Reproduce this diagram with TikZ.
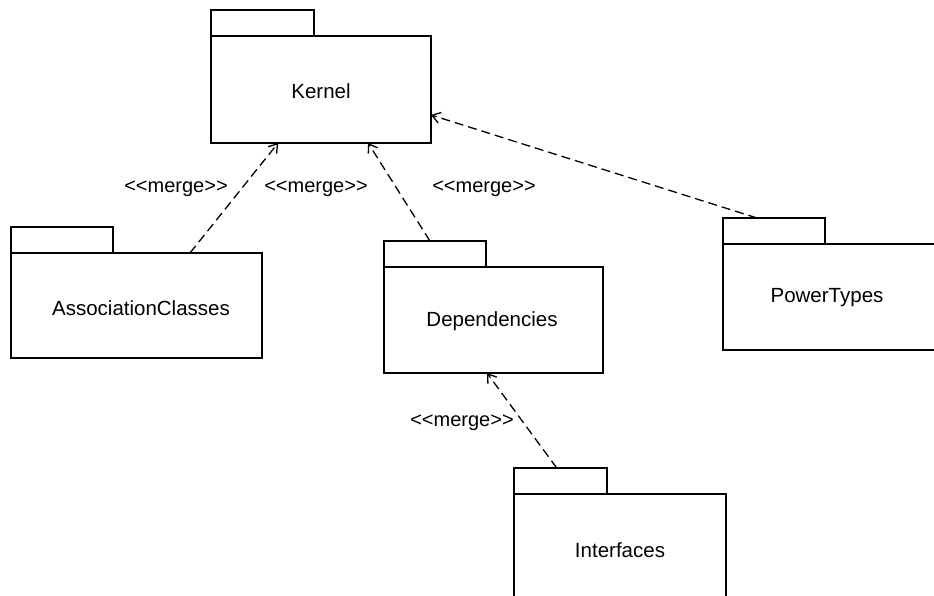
\documentclass[tikz,border=0pt]{standalone}
\usepackage{fontspec}
\setmainfont{Liberation Sans}
\usetikzlibrary{arrows.meta,calc}
\tikzset{
  pkgbody/.style={draw=black, line width=2.6pt, anchor=north west, inner sep=0pt, outer sep=0pt, fill=white},
  pkgtab/.style={draw=black, line width=2.6pt, anchor=south west, inner sep=0pt, outer sep=0pt, minimum height=26pt},
  pkgtext/.style={inner sep=0pt, font=\fontsize{20.5}{23}\selectfont},
  mergelabel/.style={inner sep=0pt, font=\fontsize{20}{23}\selectfont},
  merge/.style={draw=black, line width=1.3pt, dash pattern=on 9pt off 5pt,
    -{Straight Barb[length=8pt,width=11pt,line width=1.3pt]}}
}
\begin{document}
\begin{tikzpicture}[x=1pt,y=-1pt]
\useasboundingbox (0,0) rectangle (934,596);
\clip (0,0) rectangle (934,596);

% Kernel
\node[pkgbody, minimum width=220pt, minimum height=107pt] (kernel) at (211,36) {};
\node[pkgtab, minimum width=103pt] (kerneltab) at (kernel.north west) {};
\node[pkgtext] (kerneltxt) at (321,91) {Kernel};

% AssociationClasses
\node[pkgbody, minimum width=251pt, minimum height=105pt] (assoc) at (11,253) {};
\node[pkgtab, minimum width=102pt] (assoctab) at (assoc.north west) {};
\node[pkgtext] (assoctxt) at (141,308) {AssociationClasses};

% Dependencies
\node[pkgbody, minimum width=219pt, minimum height=106pt] (deps) at (384,267) {};
\node[pkgtab, minimum width=102pt] (depstab) at (deps.north west) {};
\node[pkgtext] (depstxt) at (492,321) {Dependencies};

% PowerTypes
\node[pkgbody, minimum width=230pt, minimum height=106pt] (power) at (723,244) {};
\node[pkgtab, minimum width=102pt] (powertab) at (power.north west) {};
\node[pkgtext] (powertxt) at (827,298) {PowerTypes};

% Interfaces
\node[pkgbody, minimum width=212pt, minimum height=130pt] (intf) at (514,494) {};
\node[pkgtab, minimum width=93pt] (intftab) at (intf.north west) {};
\node[pkgtext] (intftxt) at (620,550) {Interfaces};

% connectors
\draw[merge] ($(assoc.north west)!0.713!(assoc.north east)$) -- ($(kernel.south west)!0.305!(kernel.south east)$);
\draw[merge] ($(depstab.north west)!0.45!(depstab.north east)$) -- ($(kernel.south west)!0.714!(kernel.south east)$);
\draw[merge] ($(powertab.north west)!0.333!(powertab.north east)$) -- ($(kernel.north east)!0.738!(kernel.south east)$);
\draw[merge] ($(intftab.north west)!0.46!(intftab.north east)$) -- ($(deps.south west)!0.47!(deps.south east)$);

% labels
\node[mergelabel] (m1) at (176,189) {{<}{<}merge{>}{>}};
\node[mergelabel] (m2) at (316,189) {{<}{<}merge{>}{>}};
\node[mergelabel] (m3) at (484,189) {{<}{<}merge{>}{>}};
\node[mergelabel] (m4) at (462,423) {{<}{<}merge{>}{>}};
\end{tikzpicture}
\end{document}
